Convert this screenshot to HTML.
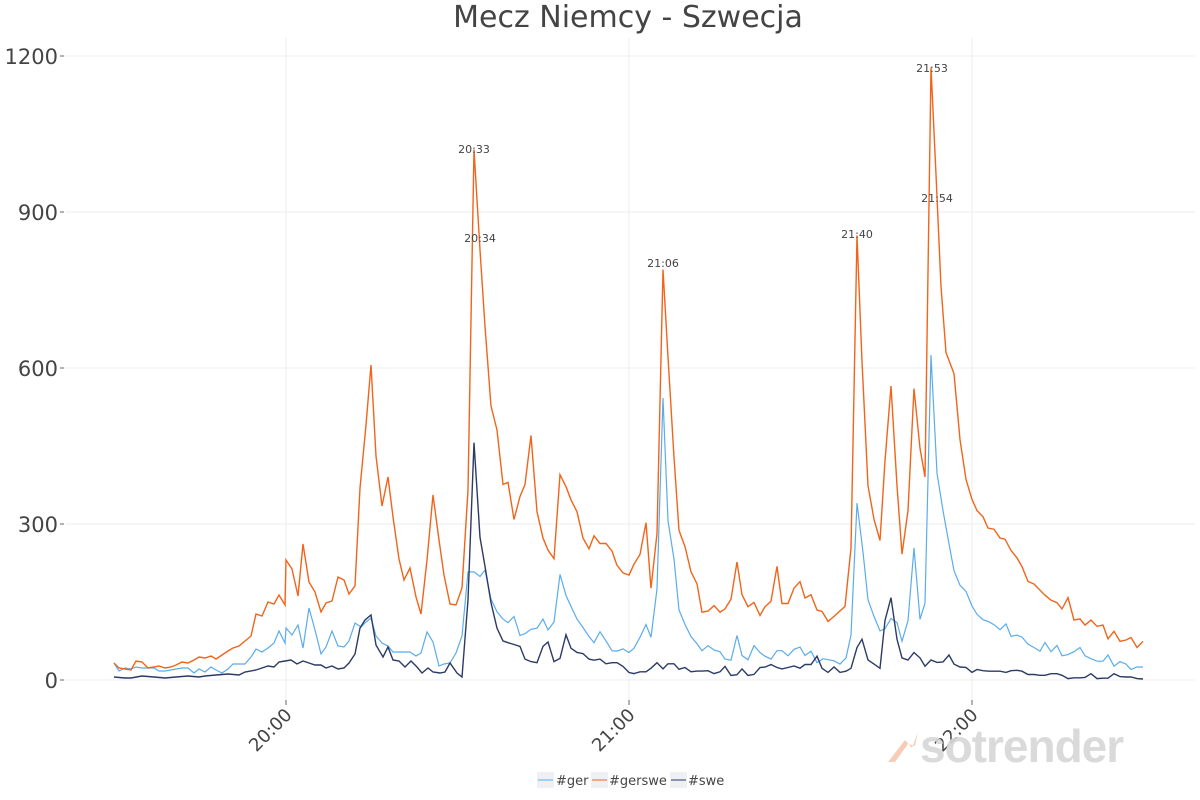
<!DOCTYPE html>
<html><head><meta charset="utf-8"><style>
body{margin:0;background:#fff;}
svg{display:block;font-family:"Liberation Sans","DejaVu Sans",sans-serif;}
</style></head><body>
<svg id="c" width="1200" height="800" xmlns="http://www.w3.org/2000/svg">
<g stroke="#ececec" stroke-width="1">
<line x1="65" y1="56" x2="1195" y2="56"/><line x1="65" y1="212" x2="1195" y2="212"/>
<line x1="65" y1="368" x2="1195" y2="368"/><line x1="65" y1="524" x2="1195" y2="524"/>
<line x1="65" y1="680" x2="1195" y2="680"/>
<line x1="286" y1="38" x2="286" y2="700"/><line x1="629" y1="38" x2="629" y2="700"/><line x1="972" y1="38" x2="972" y2="700"/>
</g>
<text x="628" y="27" font-size="30" fill="#444" text-anchor="middle" font-family="DejaVu Sans, sans-serif">Mecz Niemcy - Szwecja</text>
<g font-size="21" fill="#444" text-anchor="end" font-family="DejaVu Sans, sans-serif">
<text x="58" y="64">1200</text><text x="58" y="220">900</text><text x="58" y="376">600</text><text x="58" y="532">300</text><text x="58" y="688">0</text>
</g>
<g stroke="#666"><line x1="60" y1="56" x2="64" y2="56"/><line x1="60" y1="212" x2="64" y2="212"/><line x1="60" y1="368" x2="64" y2="368"/><line x1="60" y1="524" x2="64" y2="524"/><line x1="60" y1="680" x2="64" y2="680"/>
<line x1="286" y1="700" x2="286" y2="705"/><line x1="629" y1="700" x2="629" y2="705"/><line x1="972" y1="700" x2="972" y2="705"/></g>
<g font-size="18" fill="#444" text-anchor="end" font-family="DejaVu Sans, sans-serif">
<text transform="translate(293,716) rotate(-45)">20:00</text>
<text transform="translate(636,716) rotate(-45)">21:00</text>
<text transform="translate(979,716) rotate(-45)">22:00</text>
</g>
<g opacity="0.9">
<path d="M888,762 L905,740 L912,748 L918,732 L915,746 L908,744 L895,762 Z" fill="#f6c7b0"/>
<text x="920" y="762" font-size="46" font-weight="bold" fill="#d6d6d6" letter-spacing="-1">sotrender</text>
</g>
<polyline id="ger" fill="none" stroke="#5aacec" stroke-width="1.2"/>
<polyline id="gs" fill="none" stroke="#f26419" stroke-width="1.4"/>
<polyline id="swe" fill="none" stroke="#2b3a67" stroke-width="1.4"/>
<g font-size="11" fill="#444" text-anchor="middle" font-family="DejaVu Sans, sans-serif">
<text x="474" y="153">20:33</text><text x="480" y="242">20:34</text><text x="663" y="267">21:06</text>
<text x="857" y="238">21:40</text><text x="932" y="72">21:53</text><text x="937" y="202">21:54</text>
</g>
<g font-size="13" fill="#444" font-family="DejaVu Sans, sans-serif">
<rect x="537" y="772" width="17" height="16" fill="#eef0f3"/><line x1="538" y1="780" x2="553" y2="780" stroke="#5aacec"/>
<text x="556" y="785">#ger</text>
<rect x="591" y="772" width="17" height="16" fill="#eef0f3"/><line x1="592" y1="780" x2="607" y2="780" stroke="#f26419"/>
<text x="609" y="785">#gerswe</text>
<rect x="670" y="772" width="17" height="16" fill="#eef0f3"/><line x1="671" y1="780" x2="686" y2="780" stroke="#2b3a67"/>
<text x="688" y="785">#swe</text>
</g>
</svg>
<script>
function z2(a){var r=[];for(var i=0;i<a.length;i+=2)r.push(a[i]+","+(130+a[i+1]/2.75).toFixed(1));return r;}
function z3(a){var r=[];for(var i=0;i<a.length;i+=2)r.push(a[i]+","+(50+a[i+1]/2.41).toFixed(1));return r;}
function p(a){var r=[];for(var i=0;i<a.length;i+=2)r.push(a[i]+","+a[i+1]);return r;}
function t2(a){var r=[];for(var i=0;i<a.length;i+=2)r.push(a[i]+","+(130+(a[i+1]-130)*1.0909).toFixed(1));return r;}
function t3(a){var r=[];for(var i=0;i<a.length;i+=2)r.push(a[i]+","+(50+(a[i+1]-50)*1.2448).toFixed(1));return r;}
var gs=p([114,663,119,668,125,669,131,670,136,661,142,662,148,668,154,667,159,666,165,668,171,667,176,665,182,662,188,663,194,660,199,657,205,658,211,656,216,659,222,655,228,651,233,648,239,646,245,641,251,636,256,614,262,616,268,602,274,604,279,595,285,605,286,560,292,569,298,596,303,544,309,582,315,592,321,612,326,603,332,601,338,577,344,580,349,594,355,586,360,488,366,425,371,365,376,456,382,506,388,477,393,517,399,559,404,580,410,568,416,597,421,614,427,560,433,495,439,540,444,575,450,604,456,605,462,588,468,490]).concat(
t2([474,148,480,240,485,310,491,383,497,405,503,455,508,453,514,487,520,466,525,455,531,410,537,480,543,504,548,515,554,523,560,446,566,457,571,469,577,480,583,504,589,514,594,502,600,509,606,509,612,516,617,529,623,536,629,538,634,528,640,519,646,490,651,550,657,500,663,258,668,338,674,430,679,497,685,512,691,535,697,546,702,572,708,571,714,566,720,572,725,569,731,560,737,526,742,556,748,567,754,563,760,575,765,567,771,562,777,530,782,564,788,564,794,550,800,544,805,559,811,556,817,570])).concat(
t3([822,501,828,509,834,505,845,497,851,450,857,199,862,300,868,400,874,427,880,444,885,380,891,320,897,400,902,455,908,420,914,322,920,370,925,393,931,64,936,150,941,240,946,293,954,310,960,363,966,395,972,411,977,420,983,425,988,434,994,435,1000,442,1005,443,1011,452,1017,458,1022,465,1028,477,1034,479,1040,484,1045,488,1051,492,1057,494,1062,499,1068,490,1074,508,1080,507,1085,512,1091,508,1097,513,1103,512,1108,523,1114,517,1120,525,1126,524,1131,522,1137,530,1143,525]));
var ger=p([114,663,119,671,125,668,131,669,136,667,142,668,148,668,154,668,159,671,165,671,171,670,176,669,182,668,188,668,194,673,199,669,205,672,211,667,216,670,222,673,228,669,233,664,239,664,245,664,251,657,256,649,262,652,268,648,274,643,279,631,285,643,286,628,292,635,298,625,303,648,309,608,315,630,321,654,326,647,332,631,338,646,344,647,349,641,355,623,361,627,366,622,371,618,376,636,382,643,388,646,393,652,399,652,404,652,410,652,416,656,421,653,427,632,433,642,439,666,444,664,450,663,456,653,462,636,468,572]).concat(
z2([474,1215,480,1228,485,1210,491,1290,497,1325,503,1345,508,1355,514,1338,520,1390,525,1385,531,1373,537,1370,543,1345,548,1375,554,1353,560,1222,566,1280,571,1310,577,1345,583,1368,589,1393,594,1410,600,1380,606,1405,612,1432,617,1433,623,1427,629,1437,634,1425,640,1395,646,1360,651,1395,657,1262,663,737,668,1075,674,1180,679,1320,685,1360,691,1393,697,1413,702,1432,708,1418,714,1430,720,1435,725,1455,731,1458,737,1390,742,1445,748,1457,754,1418,760,1437,765,1447,771,1455,777,1432,782,1432,788,1446,794,1428,800,1422,805,1445,811,1433,817,1465])).concat(
z3([823,1467,834,1472,840,1480,846,1465,851,1410,857,1092,863,1210,868,1325,874,1365,880,1400,885,1395,891,1370,897,1380,902,1425,908,1375,914,1200,920,1372,925,1333,931,735,937,1020,943,1110,949,1190,954,1255,960,1290,966,1305,972,1340,977,1360,983,1373,989,1378,994,1385,1000,1397,1006,1383,1011,1413,1017,1410,1022,1415,1028,1432,1034,1440,1040,1449,1045,1428,1051,1450,1057,1435,1062,1460,1068,1457,1074,1450,1080,1440,1085,1460,1091,1467,1097,1473,1103,1473,1108,1458,1114,1485,1120,1474,1126,1480,1131,1493,1137,1487,1143,1487]));
var swe=p([114,677,125,678,131,678,142,676,154,677,165,678,176,677,188,676,199,677,205,676,216,675,228,674,239,675,245,672,256,670,262,668,268,666,274,667,279,662,285,661,291,660,297,664,303,661,309,663,315,665,321,665,326,668,332,666,338,669,344,668,349,663,355,654,360,628,365,620,371,615,376,645,383,657,388,647,393,660,399,661,405,667,411,661,417,667,422,673,428,668,433,672,440,673,445,672,450,663,457,673,462,677,468,600]).concat(
z2([474,860,480,1120,485,1200,491,1300,497,1370,503,1405,508,1410,514,1415,520,1420,525,1455,531,1462,537,1465,543,1420,548,1408,554,1462,560,1453,566,1388,571,1425,577,1437,583,1440,589,1455,594,1458,600,1455,606,1468,612,1465,617,1465,623,1475,629,1492,634,1495,640,1490,646,1490,651,1480,657,1465,663,1482,668,1468,674,1468,679,1483,685,1478,691,1490,697,1488,702,1488,708,1487,714,1495,720,1490,725,1475,731,1500,737,1498,742,1482,748,1500,754,1497,760,1478,765,1477,771,1470,777,1478,782,1482,788,1478,794,1474,800,1480,805,1470,811,1470,817,1447])).concat(
z3([822,1490,828,1500,834,1487,840,1500,846,1497,851,1490,857,1440,862,1420,868,1470,874,1480,880,1490,885,1375,891,1320,897,1420,902,1465,908,1470,914,1452,920,1465,925,1485,931,1470,937,1476,943,1475,949,1458,954,1480,960,1487,966,1488,972,1500,977,1493,983,1496,989,1497,994,1497,1000,1497,1006,1500,1011,1496,1017,1495,1022,1497,1028,1505,1034,1505,1040,1507,1045,1507,1051,1503,1057,1503,1062,1507,1068,1515,1074,1513,1080,1513,1085,1512,1091,1503,1097,1515,1103,1514,1108,1514,1114,1503,1120,1510,1126,1511,1131,1511,1137,1515,1143,1516]));
document.getElementById('gs').setAttribute('points',gs.join(' '));
document.getElementById('ger').setAttribute('points',ger.join(' '));
document.getElementById('swe').setAttribute('points',swe.join(' '));
</script>
</body></html>
